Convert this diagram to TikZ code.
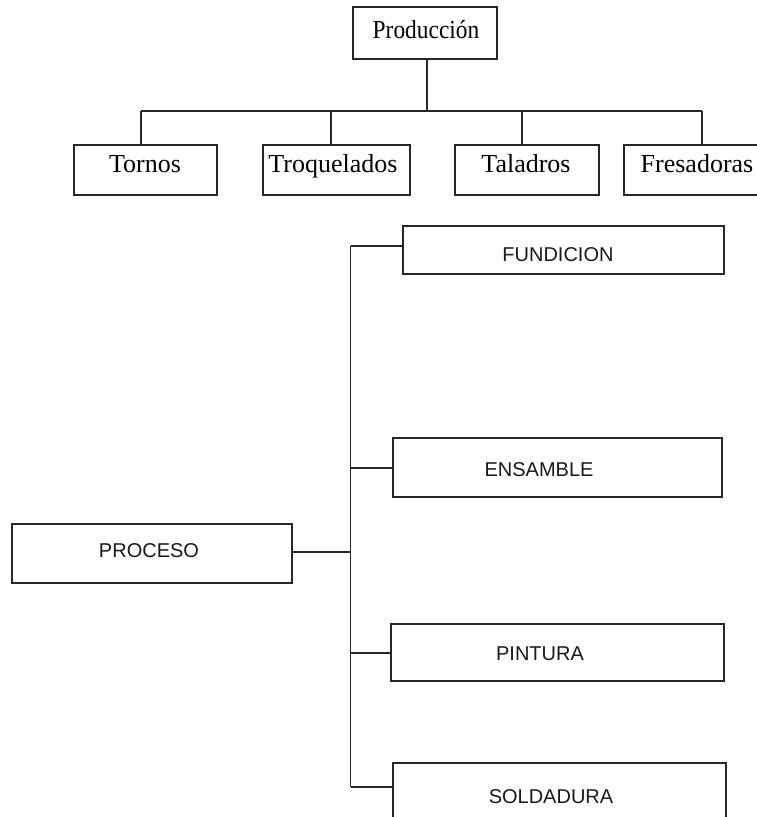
\documentclass[tikz,border=0pt]{standalone}
\usepackage{fontspec}
\usepackage{graphicx}
\setmainfont{Liberation Serif}
\newfontfamily\sansf{Liberation Sans}
\begin{document}
\begin{tikzpicture}[x=1pt,y=-1pt,
  box/.style={draw=black!85,line width=1.7pt,rectangle,inner sep=0pt,fill=white},
  conn/.style={draw=black!85,line width=1.5pt},
  serlab/.style={anchor=base,inner sep=0pt,font=\fontsize{26}{28}\selectfont},
  sanlab/.style={anchor=base,inner sep=0pt,font=\sansf\fontsize{20}{22}\selectfont,text=black!90}]
\useasboundingbox (0,0) rectangle (756,817);
\fill[white] (0,0) rectangle (756,817);
% top tree
\node[box,minimum width=144pt,minimum height=52pt] (prod) at (425,33) {};
\node[box,minimum width=143pt,minimum height=50pt] (torn) at (145.5,170) {};
\node[box,minimum width=147pt,minimum height=50pt] (troq) at (336.5,170) {};
\node[box,minimum width=144pt,minimum height=50pt] (tala) at (527,170) {};
\node[box,minimum width=150pt,minimum height=50pt] (fres) at (699,170) {};
\node[serlab] (prod-t) at (426,38) {\scalebox{0.9}[1]{Producción}};
\node[serlab] (torn-t) at (145,172) {Tornos};
\node[serlab] (troq-t) at (333,172) {Troquelados};
\node[serlab] (tala-t) at (526,172) {Taladros};
\node[serlab] (fres-t) at (697,172) {Fresadoras};
\coordinate (bus) at (427,111);
\coordinate (b1) at (141,111);
\coordinate (b2) at (331,111);
\coordinate (b3) at (522,111);
\coordinate (b4) at (702,111);
\draw[conn] (bus |- prod.south) -- (bus);
\draw[conn] (b1) -- (b4);
\draw[conn] (b1) -- (b1 |- torn.north);
\draw[conn] (b2) -- (b2 |- troq.north);
\draw[conn] (b3) -- (b3 |- tala.north);
\draw[conn] (b4) -- (b4 |- fres.north);
% bottom tree
\node[box,minimum width=280pt,minimum height=59pt] (proc) at (152,553.5) {};
\node[box,minimum width=321pt,minimum height=48pt] (fund) at (563.5,250) {};
\node[box,minimum width=329pt,minimum height=59pt] (ensa) at (557.5,467.5) {};
\node[box,minimum width=333pt,minimum height=57pt] (pint) at (557.5,652.5) {};
\node[box,minimum width=333pt,minimum height=80pt] (sold) at (559.5,803) {};
\node[sanlab] (proc-t) at (149,557) {PROCESO};
\node[sanlab] (fund-t) at (558,261) {FUNDICION};
\node[sanlab] (ensa-t) at (539,476) {ENSAMBLE};
\node[sanlab] (pint-t) at (540,660) {PINTURA};
\node[sanlab] (sold-t) at (551,803) {SOLDADURA};
\coordinate (s1) at (350.5,246);
\coordinate (s2) at (350.5,468);
\coordinate (s0) at (350.5,552);
\coordinate (s3) at (350.5,653);
\coordinate (s4) at (350.5,787);
\draw[conn] (s1) -- (s4);
\draw[conn] (s1) -- (s1 -| fund.west);
\draw[conn] (s2) -- (s2 -| ensa.west);
\draw[conn] (s0 -| proc.east) -- (s0);
\draw[conn] (s3) -- (s3 -| pint.west);
\draw[conn] (s4) -- (s4 -| sold.west);
\end{tikzpicture}
\end{document}
